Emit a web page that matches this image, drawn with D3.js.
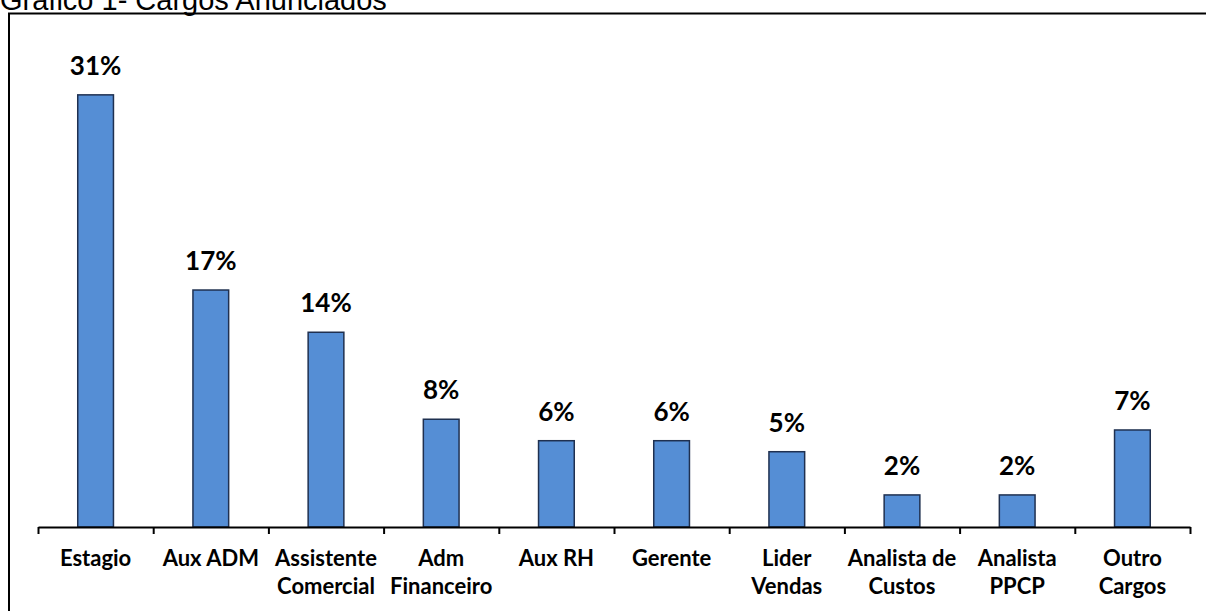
<!DOCTYPE html>
<html>
<head>
<meta charset="utf-8">
<script src="https://cdn.jsdelivr.net/npm/d3@7"></script>
<style>
  body { margin: 0; background: #fff; }
  svg { display: block; }
</style>
</head>
<body>
<script>
const categories = [
  ["Estagio"],
  ["Aux ADM"],
  ["Assistente", "Comercial"],
  ["Adm", "Financeiro"],
  ["Aux RH"],
  ["Gerente"],
  ["Lider", "Vendas"],
  ["Analista de", "Custos"],
  ["Analista", "PPCP"],
  ["Outro", "Cargos"]
];
const values = [31.0, 17.0, 13.97, 7.73, 6.19, 6.19, 5.4, 2.3, 2.3, 6.96];
const title = "Gráfico 1- Cargos Anunciados";

const width = 1206, height = 611;
const baseY = 527, left = 38, right = 1190;

const svg = d3.select("body").append("svg")
    .attr("width", width)
    .attr("height", height);

// frame (left + top lines only, the rest is cut off)
svg.append("path")
    .attr("d", `M9,${height} V13.5 H${width}`)
    .attr("fill", "none")
    .attr("stroke", "#000")
    .attr("stroke-width", 2);

svg.append("text")
    .attr("x", 0)
    .attr("y", 10)
    .style("font", "29px 'Liberation Sans', Arial, sans-serif")
    .text(title);

const x = d3.scaleBand()
    .domain(d3.range(categories.length))
    .range([left, right])
    .paddingInner(0.69)
    .paddingOuter(0.345);

const y = d3.scaleLinear()
    .domain([0, 35])
    .range([baseY, baseY - 35 * 13.94]);

// bars
svg.append("g")
  .selectAll("rect")
  .data(values)
  .join("rect")
    .attr("x", (d, i) => x(i))
    .attr("y", d => y(d))
    .attr("width", x.bandwidth())
    .attr("height", d => y(0) - y(d))
    .attr("fill", "#558ED5")
    .attr("stroke", "#1F3050")
    .attr("stroke-width", 1.5);

// value labels
svg.append("g")
    .attr("text-anchor", "middle")
    .style("font", "bold 26px Lato, sans-serif")
  .selectAll("text")
  .data(values)
  .join("text")
    .attr("x", (d, i) => x(i) + x.bandwidth() / 2)
    .attr("y", d => y(d) - 20)
    .attr("fill", "#000")
    .text(d => d3.format(".0f")(d) + "%");

// axis with ticks between categories
const xi = d3.scaleLinear().domain([0, categories.length]).range([left, right]);
svg.append("g")
    .attr("transform", `translate(0,${baseY})`)
    .call(d3.axisBottom(xi).tickValues(d3.range(categories.length + 1)).tickSize(7).tickFormat("").tickSizeOuter(0))
    .call(g => g.selectAll("line, path").attr("stroke", "#000").attr("stroke-width", 2));

// category labels
svg.append("g")
    .attr("text-anchor", "middle")
    .style("font", "bold 22px Lato, sans-serif")
  .selectAll("text")
  .data(categories)
  .join("text")
    .attr("x", (d, i) => x(i) + x.bandwidth() / 2)
    .attr("y", 566)
  .selectAll("tspan")
  .data(d => d)
  .join("tspan")
    .attr("x", function() { return this.parentNode.getAttribute("x"); })
    .attr("dy", (d, i) => i ? 28 : 0)
    .text(d => d);
</script>
</body>
</html>
